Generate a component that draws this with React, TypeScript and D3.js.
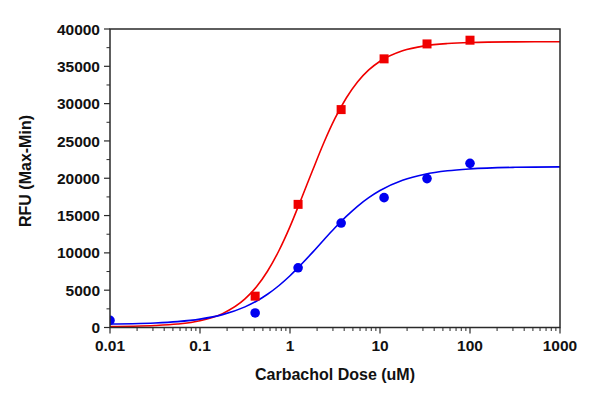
import React from 'react';
import * as d3 from 'd3';

// measured points (dose in uM, RFU)
const doses = [0.01, 0.41, 1.23, 3.7, 11.1, 33.3, 100];
const redValues = [null, 4200, 16500, 29200, 36000, 38000, 38500];
const blueValues = [950, 1950, 8000, 14000, 17400, 19950, 22000];

// fitted curves
const curveDoses = [0.01, 0.0178, 0.0316, 0.0562, 0.1, 0.178, 0.316, 0.422, 0.562, 0.75, 1, 1.33, 1.78, 2.37, 3.16, 4.22, 5.62, 7.5, 10, 17.8, 31.6, 56.2, 100, 316, 1000];
const redCurve = [133, 173, 264, 465, 907, 1860, 3824, 5417, 7538, 10251, 13520, 17195, 21034, 24724, 28015, 30752, 32902, 34514, 35683, 37086, 37748, 38051, 38188, 38278, 38295];
const blueCurve = [459, 512, 609, 791, 1125, 1725, 2765, 3516, 4455, 5595, 6931, 8439, 10066, 11736, 13369, 14890, 16246, 17403, 18358, 19727, 20541, 21002, 21255, 21466, 21526];

const xTicks = [0.01, 0.1, 1, 10, 100, 1000];
const xTickLabels = ['0.01', '0.1', '1', '10', '100', '1000'];
const yTicks = [0, 5000, 10000, 15000, 20000, 25000, 30000, 35000, 40000];

const W = 600;
const H = 398;
const left = 110;
const right = 560;
const top = 29;
const bottom = 327.5;

const font = 'Arial, "Liberation Sans", sans-serif';

export default function App() {
    const x = d3.scaleLog().domain([0.01, 1000]).range([left, right]);
    const y = d3.scaleLinear().domain([0, 40000]).range([bottom, top]);

    const line = d3.line<[number, number]>()
        .x(d => x(d[0]))
        .y(d => y(d[1]))
        .curve(d3.curveMonotoneX);

    const redPath = line(curveDoses.map((d, i) => [d, redCurve[i]]));
    const bluePath = line(curveDoses.map((d, i) => [d, blueCurve[i]]));

    // minor log ticks
    const minorX: number[] = [];
    for (let dec = -2; dec < 3; dec++) {
        for (let k = 2; k <= 9; k++) minorX.push(k * Math.pow(10, dec));
    }
    const minorY = d3.range(2500, 40000, 5000);

    const sq = 9;
    const axisColor = '#2a2a2a';

    return (
        <svg width={W} height={H} style={{ position: 'absolute', left: 0, top: 0, background: '#fff' }}>
            <defs>
                <clipPath id="plot">
                    <rect x={left} y={top} width={right - left} height={bottom - top} />
                </clipPath>
            </defs>

            <g clipPath="url(#plot)">
                <path d={redPath || ''} fill="none" stroke="#f00000" strokeWidth={1.6} />
                <path d={bluePath || ''} fill="none" stroke="#0000f0" strokeWidth={1.6} />
                {doses.map((d, i) => redValues[i] == null ? null : (
                    <rect key={'r' + i} x={x(d) - sq / 2} y={y(redValues[i] as number) - sq / 2}
                        width={sq} height={sq} fill="#f00000" />
                ))}
                {doses.map((d, i) => (
                    <circle key={'b' + i} cx={x(d)} cy={y(blueValues[i])} r={4.8} fill="#0000f0" />
                ))}
            </g>

            {/* frame */}
            <rect x={left} y={top} width={right - left} height={bottom - top}
                fill="none" stroke={axisColor} strokeWidth={1.5} />

            {/* y axis ticks */}
            {yTicks.map(t => (
                <g key={'yt' + t}>
                    <line x1={left - 6} x2={left} y1={y(t)} y2={y(t)} stroke={axisColor} strokeWidth={1.2} />
                    <text x={left - 10} y={y(t)} dy="0.36em" textAnchor="end"
                        fontFamily={font} fontWeight="bold" fontSize={15.5} fill="#111">{t}</text>
                </g>
            ))}
            {minorY.map(t => (
                <line key={'ym' + t} x1={left - 3.5} x2={left} y1={y(t)} y2={y(t)} stroke={axisColor} strokeWidth={1} />
            ))}

            {/* x axis ticks */}
            {xTicks.map((t, i) => (
                <g key={'xt' + t}>
                    <line x1={x(t)} x2={x(t)} y1={bottom} y2={bottom + 6} stroke={axisColor} strokeWidth={1.2} />
                    <text x={x(t)} y={bottom + 23} textAnchor="middle"
                        fontFamily={font} fontWeight="bold" fontSize={15.5} fill="#111">{xTickLabels[i]}</text>
                </g>
            ))}
            {minorX.map(t => (
                <line key={'xm' + t} x1={x(t)} x2={x(t)} y1={bottom} y2={bottom + 3.5} stroke={axisColor} strokeWidth={1} />
            ))}

            {/* titles */}
            <text x={(left + right) / 2} y={380} textAnchor="middle"
                fontFamily={font} fontWeight="bold" fontSize={16} fill="#111">Carbachol Dose (uM)</text>
            <text transform="translate(31, 171) rotate(-90)" textAnchor="middle"
                fontFamily={font} fontWeight="bold" fontSize={16} fill="#111">RFU (Max-Min)</text>
        </svg>
    );
}
